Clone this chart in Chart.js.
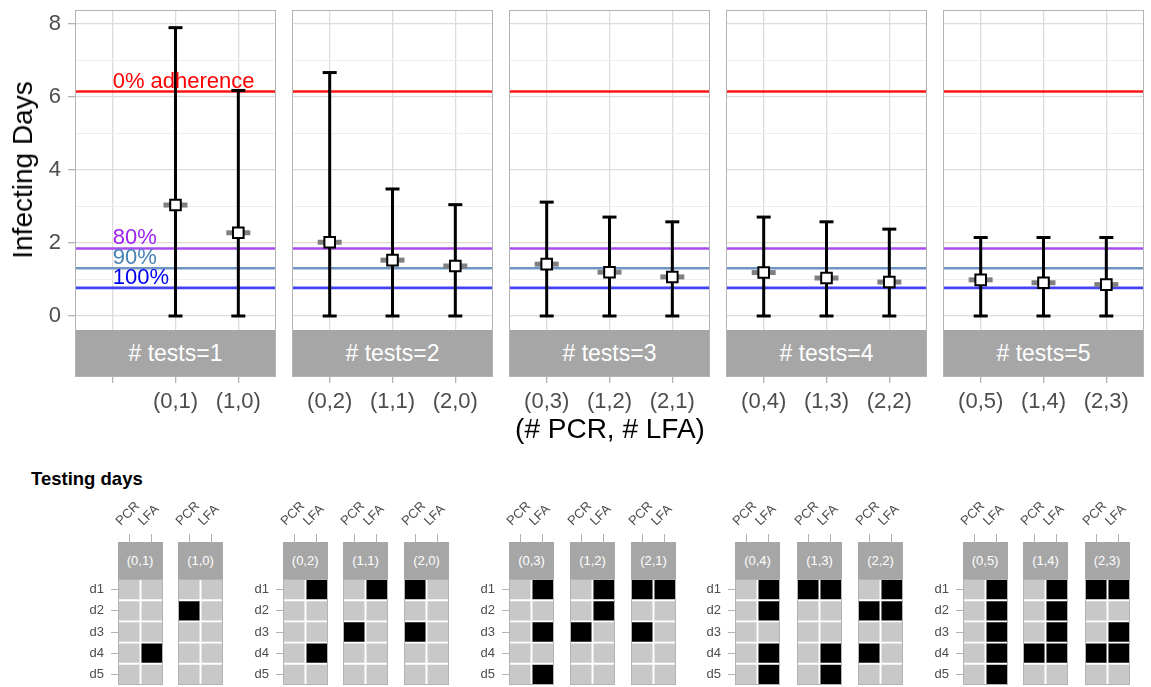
<!DOCTYPE html>
<html lang="en">
<head>
<meta charset="UTF-8" />
<title>Infecting days by testing strategy</title>
<script src="https://cdn.jsdelivr.net/npm/chart.js"></script>
<style>
  body { margin: 0; background: #fff; }
  #fig { position: relative; width: 1151px; height: 687px; overflow: hidden; background: #fff;
         font-family: "Liberation Sans", Arial, sans-serif; }
  .box { position: absolute; }
  .strip { position: absolute; background: #a6a6a6; color: #fff; display: flex;
           align-items: center; justify-content: center; box-sizing: border-box; }
  .frame { position: absolute; border: 1px solid #b3b3b3; box-sizing: border-box; }
  .txt { position: absolute; white-space: nowrap; line-height: 1; }
</style>
</head>
<body>
<div id="fig"></div>
<script>
// top panels: one per number of tests
const panelTitles = ['# tests=1', '# tests=2', '# tests=3', '# tests=4', '# tests=5'];
const combos = [
  ['', '(0,1)', '(1,0)'],
  ['(0,2)', '(1,1)', '(2,0)'],
  ['(0,3)', '(1,2)', '(2,1)'],
  ['(0,4)', '(1,3)', '(2,2)'],
  ['(0,5)', '(1,4)', '(2,3)']
];
const meanDays = [
  [null, 3.04, 2.28],
  [2.02, 1.53, 1.37],
  [1.42, 1.20, 1.07],
  [1.19, 1.04, 0.93],
  [0.99, 0.91, 0.86]
];
const lowDays = [
  [null, 0, 0],
  [0, 0, 0],
  [0, 0, 0],
  [0, 0, 0],
  [0, 0, 0]
];
const highDays = [
  [null, 7.90, 6.18],
  [6.67, 3.48, 3.05],
  [3.12, 2.71, 2.58],
  [2.71, 2.58, 2.38],
  [2.15, 2.15, 2.15]
];
const adherenceLabels = ['0% adherence', '80%', '90%', '100%'];
const adherenceDays = [6.15, 1.85, 1.31, 0.77];
const adherenceLine = ['#ff1414', '#a94df2', '#6f95c3', '#4242f7'];
const adherenceText = ['#ff0000', '#a020f0', '#4682b4', '#0000f0'];
const yTicks = [0, 2, 4, 6, 8];
const yMinor = [1, 3, 5, 7];

// bottom tiles: testing days
const tileLabels = ['(0,1)', '(1,0)', '(0,2)', '(1,1)', '(2,0)', '(0,3)', '(1,2)', '(2,1)',
                    '(0,4)', '(1,3)', '(2,2)', '(0,5)', '(1,4)', '(2,3)'];
const testTypes = ['PCR', 'LFA'];
const dayLabels = ['d1', 'd2', 'd3', 'd4', 'd5'];
const pcrDays = [[], [2], [], [3], [1, 3], [], [3], [1, 3], [], [1], [2, 4], [], [4], [1, 4]];
const lfaDays = [[4], [], [1, 4], [1], [], [1, 3, 5], [1, 2], [1], [1, 2, 4, 5], [1, 4, 5],
                 [1, 2], [1, 2, 3, 4, 5], [1, 2, 3, 4], [1, 3, 4]];

Chart.defaults.font.family = '"Liberation Sans", Arial, sans-serif';
Chart.defaults.animation = false;

const fig = document.getElementById('fig');
const clear = 'rgba(0,0,0,0)';

function place(el, left, top, width, height) {
  el.style.left = left + 'px';
  el.style.top = top + 'px';
  if (width != null) el.style.width = width + 'px';
  if (height != null) el.style.height = height + 'px';
  fig.appendChild(el);
  return el;
}
function chartBox(left, top, width, height) {
  const wrap = document.createElement('div');
  wrap.className = 'box';
  place(wrap, left, top, width, height);
  const cv = document.createElement('canvas');
  wrap.appendChild(cv);
  return cv;
}
function text(str, left, top, css) {
  const el = document.createElement('div');
  el.className = 'txt';
  el.textContent = str;
  el.style.cssText = css;
  return place(el, left, top);
}
function strip(str, left, top, width, height, size) {
  const el = document.createElement('div');
  el.className = 'strip';
  el.textContent = str;
  el.style.fontSize = size + 'px';
  return place(el, left, top, width, height);
}
function frame(left, top, width, height) {
  const el = document.createElement('div');
  el.className = 'frame';
  return place(el, left, top, width, height);
}

// ---- top row ----
const panelLeft = [75, 292, 509, 726, 943];
const panelW = 201, plotTop = 10, plotH = 320, stripH = 47, xAxisH = 86, yAxisW = 75, padTop = 24;

panelTitles.forEach((title, p) => {
  const yW = p === 0 ? yAxisW : 0;
  const left = panelLeft[p] - yW;
  const top = plotTop - padTop;
  const cv = chartBox(left, top, panelW + yW, padTop + plotH + xAxisH);

  const pts = (arr) => arr.map((v, i) => (v === null ? null : { x: i, y: v })).filter(Boolean);
  const stems = [];
  meanDays[p].forEach((m, i) => {
    if (m === null) return;
    stems.push({ x: i, y: lowDays[p][i] }, { x: i, y: highDays[p][i] }, { x: i, y: null });
  });

  const datasets = [
    { data: pts(meanDays[p]), pointStyle: 'rect', pointRadius: 7.5, pointBorderWidth: 2,
      pointBorderColor: '#000', pointBackgroundColor: '#fff', order: 0 },
    { data: pts(meanDays[p]), pointStyle: 'line', pointRadius: 12, pointBorderWidth: 5,
      pointBorderColor: '#808080', order: 1 },
    { data: pts(lowDays[p]).concat(pts(highDays[p])), pointStyle: 'line', pointRadius: 7,
      pointBorderWidth: 3, pointBorderColor: '#000', order: 2 },
    { data: stems, showLine: true, spanGaps: false, borderColor: '#000', borderWidth: 3,
      pointRadius: 0, order: 2 }
  ];
  adherenceDays.forEach((d, k) => {
    datasets.push({ data: [{ x: -0.6, y: d }, { x: 2.6, y: d }], showLine: true,
      borderColor: adherenceLine[k], borderWidth: 2.6, pointRadius: 0, order: 3 });
  });

  const chart = new Chart(cv, {
    type: 'scatter',
    data: { datasets },
    options: {
      responsive: true,
      maintainAspectRatio: false,
      events: [],
      layout: { autoPadding: false, padding: { top: padTop } },
      plugins: { legend: { display: false }, tooltip: { enabled: false } },
      scales: {
        x: {
          type: 'linear', min: -0.6, max: 2.6,
          afterBuildTicks: (s) => { s.ticks = combos[p].map((_, i) => ({ value: i })); },
          afterFit: (s) => { s.height = xAxisH; },
          grid: { color: '#dcdcdc', lineWidth: 1.3, tickLength: stripH + 6,
                  tickColor: '#b3b3b3', tickWidth: 1.3 },
          border: { display: false },
          ticks: { callback: (v) => combos[p][v], font: { size: 22 }, color: '#4d4d4d',
                   padding: 6, maxRotation: 0, autoSkip: false }
        },
        y: {
          type: 'linear', min: -0.384, max: 8.384,
          afterBuildTicks: (s) => {
            s.ticks = yTicks.concat(yMinor).sort((a, b) => a - b).map((v) => ({ value: v }));
          },
          afterFit: (s) => { s.width = yW; },
          grid: {
            color: (c) => (c.tick && yMinor.includes(c.tick.value) ? '#eeeeee' : '#dcdcdc'),
            lineWidth: (c) => (c.tick && yMinor.includes(c.tick.value) ? 1 : 1.3),
            drawTicks: p === 0, tickLength: 7, tickWidth: 1.3,
            tickColor: (c) => (c.tick && yTicks.includes(c.tick.value) ? '#b3b3b3' : clear)
          },
          border: { display: false },
          ticks: { display: p === 0, callback: (v) => (yTicks.includes(v) ? String(v) : ''),
                   font: { size: 22 }, color: '#4d4d4d', padding: 7, autoSkip: false }
        }
      }
    }
  });

  const a = chart.chartArea;
  strip(title, left + a.left, top + a.bottom, a.width, stripH, 23);
  frame(left + a.left, top + a.top, a.width, a.height + stripH);

  if (p === 0) {
    adherenceLabels.forEach((t, k) => {
      const x = left + chart.scales.x.getPixelForValue(0);
      const y = top + chart.scales.y.getPixelForValue(adherenceDays[k]);
      text(t, x, y - 22, 'font-size:22px;color:' + adherenceText[k] + ';');
    });
  }
});

text('Infecting Days', 23, 170,
  'font-size:28px;color:#000;transform:translate(-50%,-50%) rotate(-90deg);');
text('(# PCR, # LFA)', 610, 429, 'font-size:28px;color:#000;transform:translate(-50%,-50%);');
text('Testing days', 31, 470, 'font-size:18.5px;font-weight:bold;color:#000;');

// ---- bottom row ----
const tileLeft = [117.6, 178, 282.7, 343, 404, 509, 570, 631, 735, 797, 858, 962.6, 1023, 1084.5];
const groupFirst = [0, 2, 5, 8, 11];
const tileW = 45, cellTop = 579, cellH = 106, tileAxisW = 40, tileTopH = 95, tileStripH = 37;
const tilePadTop = 4, tilePadBottom = 16;

tileLabels.forEach((lab, t) => {
  const first = groupFirst.includes(t);
  const left = tileLeft[t] - tileAxisW;
  const top = cellTop - tileTopH - tilePadTop;
  const cv = chartBox(left, top, tileAxisW + tileW + 25, tilePadTop + tileTopH + cellH + tilePadBottom);

  const datasets = dayLabels.map((d, r) => ({
    label: d,
    data: testTypes.map(() => 1),
    backgroundColor: testTypes.map((_, c) =>
      ((c === 0 ? pcrDays : lfaDays)[t].includes(r + 1) ? '#000' : '#c8c8c8')),
    borderColor: '#fff',
    borderWidth: 1.3,
    borderSkipped: false,
    barPercentage: 1,
    categoryPercentage: 1
  }));

  const chart = new Chart(cv, {
    type: 'bar',
    data: { labels: testTypes, datasets },
    options: {
      responsive: true,
      maintainAspectRatio: false,
      events: [],
      layout: { autoPadding: false,
                padding: { top: tilePadTop, right: 25, bottom: tilePadBottom } },
      plugins: { legend: { display: false }, tooltip: { enabled: false } },
      scales: {
        x: {
          position: 'top', stacked: true, offset: true,
          afterFit: (s) => { s.height = tileTopH; },
          grid: { offset: false, color: clear, tickColor: '#b3b3b3', tickLength: tileStripH + 8 },
          border: { display: false },
          ticks: { minRotation: 45, maxRotation: 45, font: { size: 13 }, color: '#4d4d4d',
                   padding: 5, autoSkip: false }
        },
        y: {
          type: 'linear', stacked: true, reverse: true, min: 0, max: 5,
          afterBuildTicks: (s) => { s.ticks = dayLabels.map((_, i) => ({ value: i + 0.5 })); },
          afterFit: (s) => { s.width = tileAxisW; },
          grid: { color: clear, tickLength: 7, tickColor: first ? '#b3b3b3' : clear },
          border: { display: false },
          ticks: { display: first, callback: (v) => dayLabels[Math.floor(v)],
                   font: { size: 13 }, color: '#4d4d4d', padding: 7, autoSkip: false }
        }
      }
    }
  });

  const a = chart.chartArea;
  strip(lab, left + a.left, top + a.top - tileStripH, a.width, tileStripH, 13);
  frame(left + a.left, top + a.top, a.width, a.height);
});
</script>
</body>
</html>
